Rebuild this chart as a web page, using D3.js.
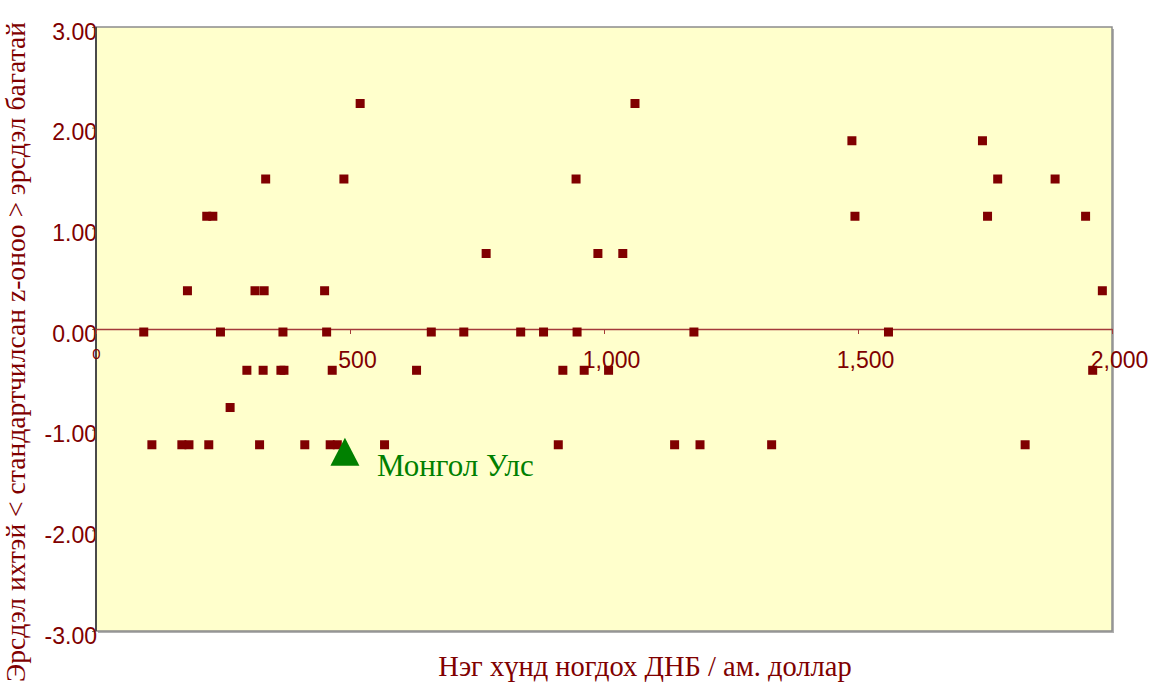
<html>

<head>
    <script src="https://d3js.org/d3.v7.min.js"></script>
    <style>
        body { margin: 0; background: #ffffff; }
    </style>
</head>

<body>
    <div id="vis"></div>
</body>

<script>

    // GNI per capita (USD) and standardized z-score, row by row
    var gni = [
        520, 1061,
        1488, 1745,
        334, 488, 945, 1775, 1888,
        218, 230, 1494, 1755, 1948,
        768, 988, 1037,
        180, 313, 331, 450, 1981,
        94, 245, 368, 454, 660, 724, 836, 881, 947, 1177, 1560,
        297, 329, 364, 370, 465, 631, 919, 961, 1009, 1962,
        264,
        110, 169, 183, 222, 322, 411, 461, 475, 568, 910, 1139, 1189, 1330, 1829
    ];
    var zscore = [
        2.24, 2.24,
        1.87, 1.87,
        1.49, 1.49, 1.49, 1.49, 1.49,
        1.12, 1.12, 1.12, 1.12, 1.12,
        0.75, 0.75, 0.75,
        0.38, 0.38, 0.38, 0.38, 0.38,
        -0.03, -0.03, -0.03, -0.03, -0.03, -0.03, -0.03, -0.03, -0.03, -0.03, -0.03,
        -0.41, -0.41, -0.41, -0.41, -0.41, -0.41, -0.41, -0.41, -0.41, -0.41,
        -0.78,
        -1.15, -1.15, -1.15, -1.15, -1.15, -1.15, -1.15, -1.15, -1.15, -1.15, -1.15, -1.15, -1.15, -1.15
    ];

    // highlighted country
    var mongolia = { name: "Монгол Улс", gni: 490, z: -1.22 };

    var xTicks = [0, 500, 1000, 1500, 2000];
    var yTicks = [-3, -2, -1, 0, 1, 2, 3];

    var xTitle = "Нэг хүнд ногдох ДНБ / ам. доллар";
    var yTitle = "Эрсдэл ихтэй < стандартчилсан z-оноо > эрсдэл багатай";

    //Setting up the graph area
    var W = 1153, H = 688;
    var margin = { top: 27, right: 41, bottom: 57, left: 96 },
        width = W - margin.left - margin.right,
        height = H - margin.top - margin.bottom;

    var dark = "#800000";
    var serif = "'Liberation Serif', 'Times New Roman', serif";
    var sans = "'Liberation Sans', Arial, sans-serif";

    var svg = d3.select("#vis")
        .append("svg")
        .attr("width", W)
        .attr("height", H);

    var x = d3.scaleLinear()
        .domain([0, 2000])
        .range([margin.left, margin.left + width]);

    var y = d3.scaleLinear()
        .domain([-3, 3])
        .range([margin.top + height, margin.top]);

    // plot area with shadow
    svg.append("rect")
        .attr("x", margin.left + 2)
        .attr("y", margin.top + 2)
        .attr("width", width)
        .attr("height", height)
        .style("fill", "#b0b0b0");

    svg.append("rect")
        .attr("x", margin.left)
        .attr("y", margin.top)
        .attr("width", width)
        .attr("height", height)
        .style("fill", "#ffffcc")
        .style("stroke", "#8c8c8c")
        .style("stroke-width", 1.5);

    //The Y axis
    var yAxis = svg.append("g")
        .attr("transform", "translate(" + margin.left + ",0)")
        .call(d3.axisLeft(y).tickValues(yTicks).tickSize(4)
            .tickFormat(function (d) { return d.toFixed(2); }));

    yAxis.select(".domain").remove();
    yAxis.selectAll("line").style("stroke", "#777");
    yAxis.selectAll("text")
        .attr("x", 1)
        .attr("dy", 0)
        .attr("y", 12)
        .style("font-family", sans)
        .style("font-size", "23px")
        .style("fill", dark);

    svg.append("line")
        .attr("x1", margin.left)
        .attr("x2", margin.left)
        .attr("y1", margin.top)
        .attr("y2", margin.top + height)
        .style("stroke", "#4a4a4a")
        .style("stroke-width", 2);

    //The X axis, crossing at zero
    var xAxis = svg.append("g")
        .attr("transform", "translate(0," + y(0) + ")")
        .call(d3.axisBottom(x).tickValues(xTicks).tickSize(5).tickSizeOuter(0)
            .tickFormat(d3.format(",")));

    xAxis.select(".domain")
        .style("stroke", "#a33a3a")
        .style("stroke-width", 1.5);
    xAxis.selectAll("line").style("stroke", "#a33a3a");
    xAxis.selectAll("text")
        .attr("dy", 0)
        .attr("y", function (d) { return d === 0 ? 30 : 39; })
        .attr("x", function (d) { return d === 0 ? 0 : 7; })
        .style("font-family", sans)
        .style("font-size", function (d) { return d === 0 ? "15px" : "23px"; })
        .style("fill", dark);

    // the dots
    var size = 9;
    svg.append("g")
        .selectAll("rect")
        .data(gni)
        .enter()
        .append("rect")
        .attr("x", function (d) { return x(d) - size / 2; })
        .attr("y", function (d, i) { return y(zscore[i]) - size / 2; })
        .attr("width", size)
        .attr("height", size)
        .style("fill", dark);

    // Mongolia
    var mx = x(mongolia.gni), my = y(mongolia.z);
    svg.append("path")
        .attr("d", "M" + mx + "," + (my - 14) + "L" + (mx + 14.5) + "," + (my + 14) + "L" + (mx - 14.5) + "," + (my + 14) + "Z")
        .style("fill", "#008000");

    svg.append("text")
        .attr("x", mx + 32)
        .attr("y", my + 24)
        .style("font-family", serif)
        .style("font-size", "31px")
        .style("fill", "#008000")
        .text(mongolia.name);

    // axis titles
    svg.append("text")
        .attr("text-anchor", "middle")
        .attr("x", 645)
        .attr("y", 676)
        .style("font-family", serif)
        .style("font-size", "28.5px")
        .style("fill", dark)
        .text(xTitle);

    svg.append("text")
        .attr("text-anchor", "middle")
        .attr("transform", "rotate(-90)")
        .attr("x", -352)
        .attr("y", 25)
        .style("font-family", serif)
        .style("font-size", "27.6px")
        .style("fill", dark)
        .text(yTitle);

</script>

</html>
